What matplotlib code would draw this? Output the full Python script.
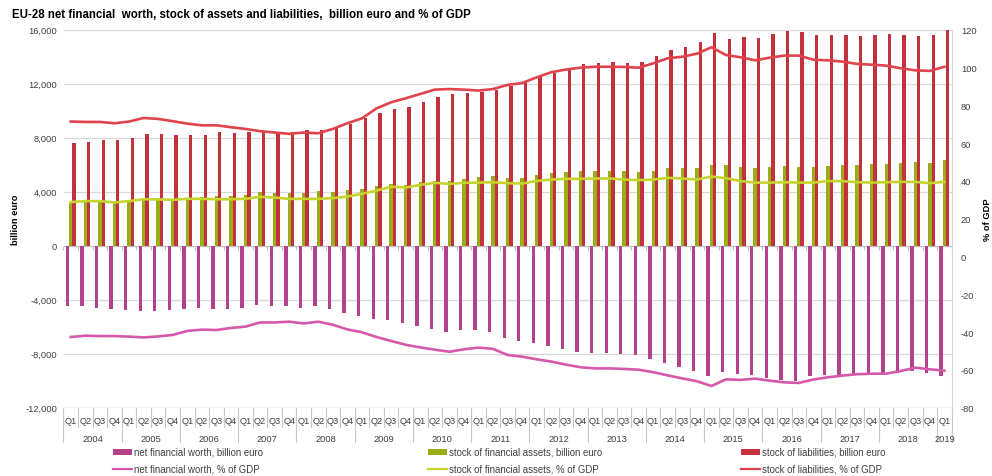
import matplotlib
matplotlib.use("Agg")
import matplotlib.pyplot as plt
from matplotlib.lines import Line2D
from matplotlib.patches import Rectangle
from matplotlib.markers import TICKDOWN
import numpy as np

plt.rcParams['font.family'] = ['Liberation Sans', 'DejaVu Sans']

# ---- data -------------------------------------------------------------
years = [str(y) for y in range(2004, 2020)]
quarter_names = ['Q1', 'Q2', 'Q3', 'Q4']
quarter_labels = (quarter_names * len(years))[:61]

nfw_bn = [-4490, -4490, -4610, -4710, -4760, -4860, -4810, -4760, -4660, -4610,
          -4710, -4660, -4610, -4390, -4440, -4440, -4610, -4490, -4710, -4960,
          -5200, -5420, -5520, -5740, -5960, -6160, -6380, -6280, -6280, -6380,
          -6870, -7040, -7190, -7410, -7630, -7880, -7950, -7950, -8000, -8120,
          -8370, -8660, -8960, -9250, -9670, -9350, -9520, -9570, -9790, -9960,
          -10010, -9670, -9570, -9570, -9520, -9470, -9570, -9400, -9250, -9400,
          -9670]
assets_bn = [3140, 3260, 3260, 3140, 3260, 3430, 3430, 3330, 3500, 3580,
             3650, 3650, 3750, 3980, 3930, 3930, 3930, 4050, 3980, 4100,
             4200, 4420, 4540, 4490, 4690, 4790, 4790, 4940, 5090, 5140,
             5010, 5010, 5240, 5380, 5460, 5510, 5560, 5560, 5510, 5460,
             5560, 5730, 5730, 5730, 6000, 6000, 5830, 5780, 5830, 5900,
             5830, 5830, 5900, 6000, 6000, 6050, 6050, 6150, 6200, 6150,
             6320]
liab_bn = [7580, 7680, 7800, 7850, 8000, 8270, 8270, 8220, 8220, 8220,
           8400, 8350, 8400, 8440, 8400, 8440, 8570, 8570, 8770, 9040,
           9460, 9830, 10120, 10270, 10620, 10990, 11210, 11310, 11410, 11560,
           11850, 12100, 12490, 12790, 13140, 13430, 13530, 13600, 13530, 13600,
           14020, 14470, 14720, 15060, 15750, 15330, 15460, 15380, 15650, 15930,
           15850, 15600, 15600, 15600, 15560, 15600, 15700, 15600, 15560, 15600,
           15980]

nfw_pct = [-42.6, -41.9, -42.1, -42.1, -42.4, -42.8, -42.3, -41.5, -39.4, -38.7,
           -38.9, -37.8, -37.1, -34.9, -34.9, -34.5, -35.4, -34.5, -36.1, -38.6,
           -40.1, -42.6, -44.7, -46.7, -48.1, -49.3, -50.4, -49.1, -48.2, -48.9,
           -52.1, -53.0, -54.4, -55.6, -57.2, -58.6, -59.2, -59.2, -59.5, -59.9,
           -61.2, -62.9, -64.5, -66.0, -68.5, -65.0, -65.3, -64.6, -65.7, -66.6,
           -66.9, -65.1, -63.9, -63.0, -62.3, -62.0, -62.0, -60.6, -58.8, -59.7,
           -60.4]
assets_pct = [28.8, 29.3, 29.3, 28.6, 29.3, 30.3, 30.2, 30.0, 30.5, 30.5,
              30.3, 30.3, 30.5, 31.6, 31.2, 30.5, 30.5, 30.5, 30.9, 31.7,
              33.2, 34.9, 36.9, 36.5, 37.9, 39.0, 38.4, 39.0, 39.1, 39.3,
              38.8, 38.6, 40.0, 40.7, 41.1, 41.1, 41.3, 41.3, 40.7, 40.4,
              40.7, 41.6, 41.3, 40.7, 42.3, 41.4, 39.9, 39.1, 39.1, 39.3,
              39.1, 39.1, 39.9, 39.9, 39.3, 39.1, 39.3, 39.5, 39.5, 38.8,
              39.5]
liab_pct = [71.4, 71.2, 71.2, 70.5, 71.4, 73.3, 72.8, 71.6, 70.3, 69.4,
            69.4, 68.4, 67.5, 66.3, 65.6, 64.9, 65.6, 65.2, 67.5, 70.5,
            73.1, 78.4, 81.6, 83.7, 86.0, 88.3, 88.6, 88.3, 87.8, 88.6,
            90.8, 91.8, 94.8, 97.5, 98.9, 99.9, 100.4, 100.4, 100.3, 99.9,
            102.2, 104.9, 105.7, 107.3, 110.7, 106.6, 105.4, 103.8, 105.2, 106.3,
            106.3, 104.1, 103.8, 103.1, 101.9, 101.5, 101.0, 99.6, 98.5, 98.2,
            100.4]

left_ticks = [-12000, -8000, -4000, 0, 4000, 8000, 12000, 16000]
right_ticks = [-80, -60, -40, -20, 0, 20, 40, 60, 80, 100, 120]

series_names = [
    ('net financial worth, billion euro', 'net financial worth, % of GDP'),
    ('stock of financial assets, billion euro', 'stock of financial assets, % of GDP'),
    ('stock of liabilities, billion euro', 'stock of liabilities, % of GDP'),
]

# ---- style ------------------------------------------------------------
BAR_COLORS = ['#B4418C', '#9BAB19', '#C3323C']
LINE_COLORS = ['#D558AB', '#C5D32C', '#E0434B']
GRID = '#D9D9D9'
TXT = '#404040'
FS = 6.7
FS_LEG = 6.9

W, H = 992, 477
fig = plt.figure(figsize=(W / 100, H / 100), dpi=100)
L, R, T, B = 63.5, 951.7, 30.7, 408.7
ax = fig.add_axes([L / W, 1 - B / H, (R - L) / W, (B - T) / H])
ax2 = ax.twinx()

n = len(quarter_labels)
x = np.arange(n)
bw = 0.23
ax.bar(x - bw, nfw_bn, bw, color=BAR_COLORS[0], zorder=3, linewidth=0)
ax.bar(x, assets_bn, bw, color=BAR_COLORS[1], zorder=3, linewidth=0)
ax.bar(x + bw, liab_bn, bw, color=BAR_COLORS[2], zorder=3, linewidth=0)

for vals, col in zip([nfw_pct, assets_pct, liab_pct], LINE_COLORS):
    ax2.plot(x, vals, color=col, lw=1.9, solid_joinstyle='round', zorder=4)

ax.set_xlim(-0.5, n - 0.5)
ax.set_ylim(left_ticks[0], left_ticks[-1])
ax2.set_ylim(right_ticks[0], right_ticks[-1])

ax.set_yticks(left_ticks)
ax.set_yticklabels([f"{v:,}" for v in left_ticks])
ax2.set_yticks(right_ticks)
ax2.set_yticklabels([str(v) for v in right_ticks])
ax.set_xticks([])
ax2.set_xticks([])

ax.tick_params(axis='y', length=0, labelsize=FS, labelcolor=TXT, pad=4.6)
ax2.tick_params(axis='y', length=0, labelsize=FS, labelcolor=TXT, pad=6.6)

for sp in ax.spines.values():
    sp.set_visible(False)
for sp in ax2.spines.values():
    sp.set_visible(False)
ax2.spines['right'].set_visible(True)
ax2.spines['right'].set_color(GRID)
ax2.spines['right'].set_linewidth(0.8)

for v in left_ticks:
    if v == 0:
        continue
    ax.axhline(v, color=GRID, lw=0.9, zorder=1)
ax.axhline(0, color='#BFBFBF', lw=0.9, zorder=2)
ax.axhline(left_ticks[0], color='#C8C8C8', lw=0.9, zorder=2)

# small tick marks on the zero line between categories
bounds = np.arange(n + 1) - 0.5
ax.plot(bounds, np.zeros_like(bounds), linestyle='none', marker=TICKDOWN,
        markersize=3, markeredgewidth=0.8, color='#BFBFBF', zorder=2, clip_on=False)

# two-level category axis
axh = B - T
xt = ax.get_xaxis_transform()
q_y = -13.0 / axh
yr_y = -30.5 / axh
q_sep = -19.5 / axh
yr_sep = -34.5 / axh
for i, q in enumerate(quarter_labels):
    ax.text(i, q_y, q, transform=xt, ha='center', va='center',
            fontsize=FS, color=TXT, clip_on=False)
for b in bounds:
    is_year = (int(round(b + 0.5)) % 4 == 0) or b == bounds[-1]
    ax.add_line(Line2D([b, b], [0, yr_sep if is_year else q_sep], transform=xt,
                       color='#C8C8C8', lw=0.8, clip_on=False))
for k, yr in enumerate(years):
    first = 4 * k
    last = min(4 * k + 3, n - 1)
    if first > n - 1:
        break
    ax.text((first + last) / 2, yr_y, yr, transform=xt, ha='center', va='center',
            fontsize=FS, color=TXT, clip_on=False)

# titles and axis labels
fig.text(12 / W, 1 - 14.5 / H, 'EU-28 net financial  worth, stock of assets and liabilities,  billion euro and % of GDP',
         ha='left', va='center', fontsize=8.3, fontweight='bold', color='#000000')
fig.text(16 / W, 1 - 219.7 / H, 'billion euro', rotation=90, ha='center', va='center',
         fontsize=FS, fontweight='bold', color='#000000')
fig.text(987 / W, 1 - 219.7 / H, '% of GDP', rotation=90, ha='center', va='center',
         fontsize=FS, fontweight='bold', color='#000000')

# legend, three columns by two rows
col_x = [113, 428, 741]
row_y = [453, 470]
for (bar_name, line_name), bc, lc, cx in zip(series_names, BAR_COLORS, LINE_COLORS, col_x):
    fig.add_artist(Rectangle((cx / W, 1 - (row_y[0] + 3) / H), 19 / W, 6 / H,
                             transform=fig.transFigure, color=bc, lw=0))
    fig.text((cx + 21) / W, 1 - row_y[0] / H, bar_name, ha='left', va='center',
             fontsize=FS_LEG, color=TXT)
    fig.add_artist(Line2D([cx / W, (cx + 19) / W], [1 - row_y[1] / H] * 2,
                          transform=fig.transFigure, color=lc, lw=1.6))
    fig.text((cx + 21) / W, 1 - row_y[1] / H, line_name, ha='left', va='center',
             fontsize=FS_LEG, color=TXT)

fig.savefig('out.png', dpi=100)
